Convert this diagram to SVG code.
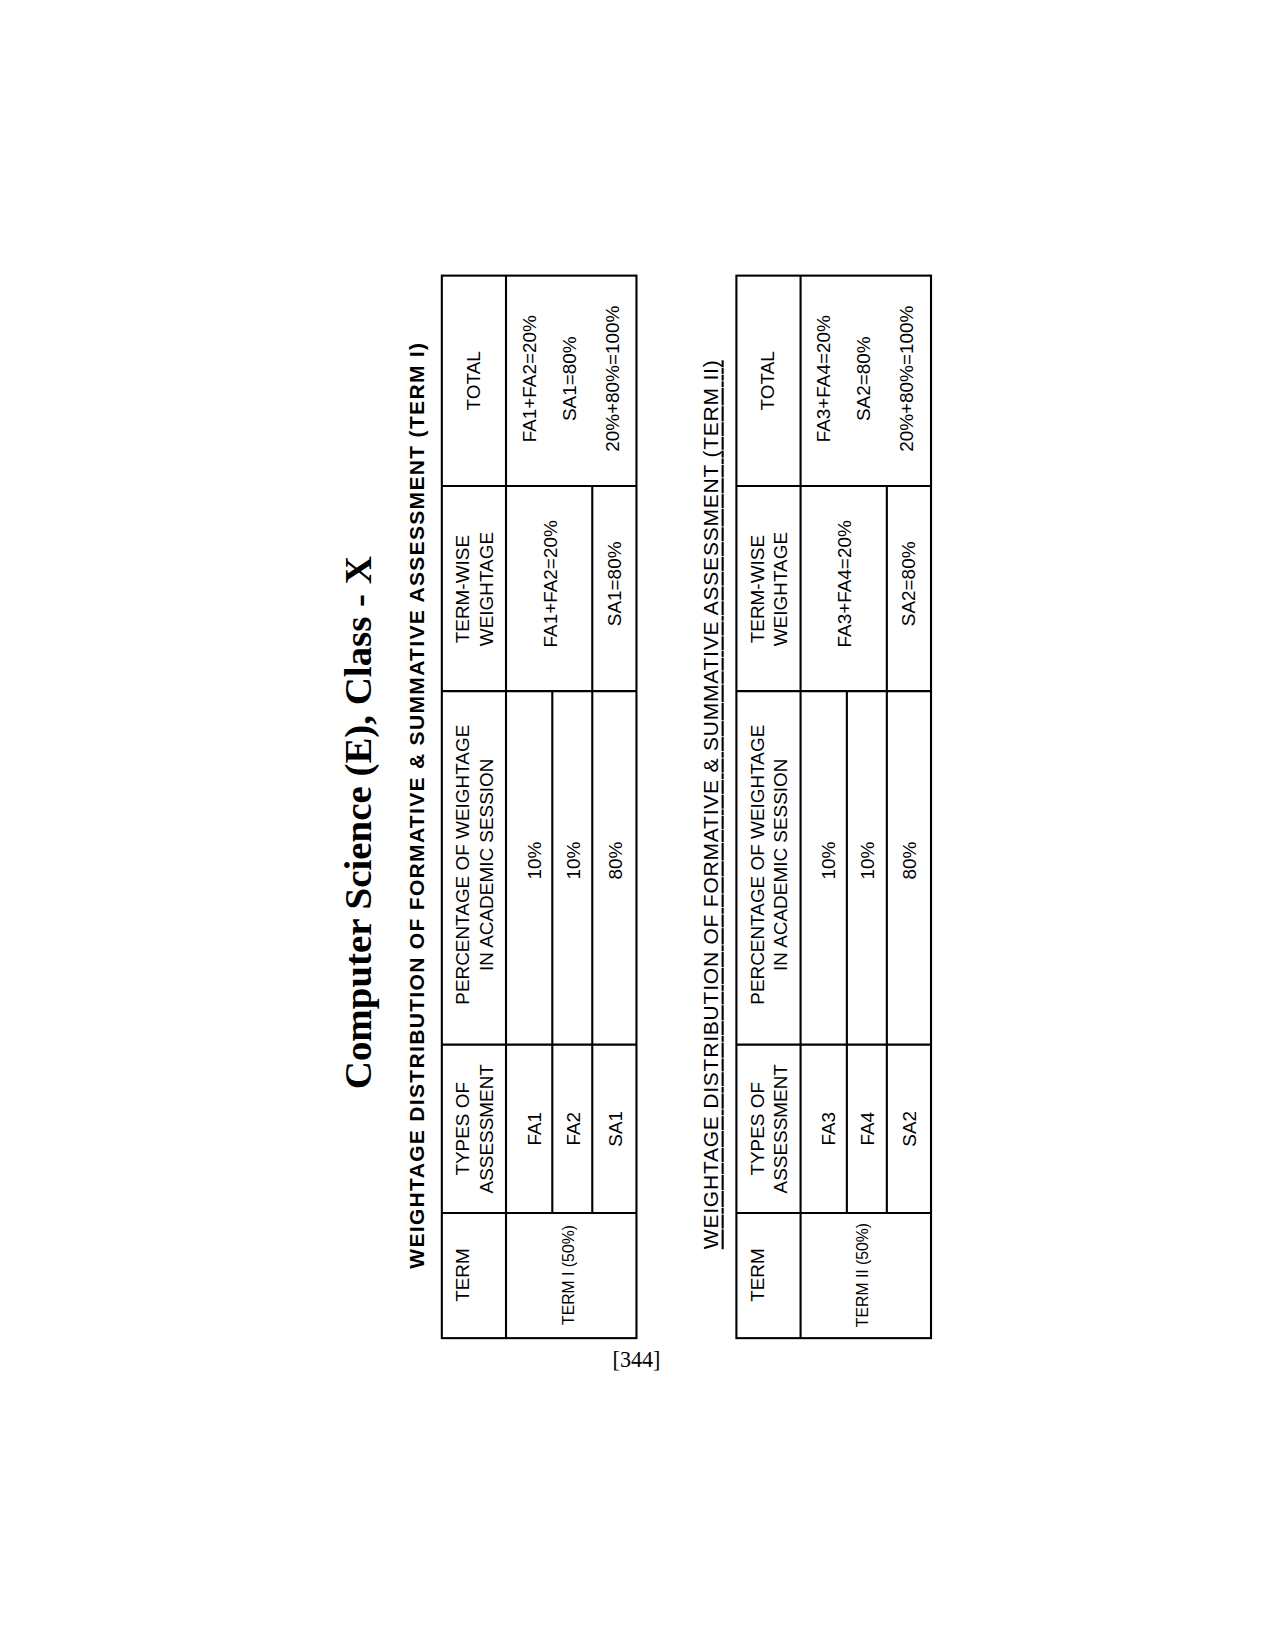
<svg xmlns="http://www.w3.org/2000/svg" width="1275" height="1651" viewBox="0 0 1275 1651">
<style>
.l{stroke:#000;stroke-width:2;fill:none}
text{font-family:"Liberation Sans",Arial,sans-serif;font-size:18px;text-anchor:middle;dominant-baseline:central;fill:#000}
.s{font-size:15px}
.t{font-family:"Liberation Serif","Times New Roman",serif;font-size:37px;font-weight:bold}
.h{font-size:20px;font-weight:bold}
.u{font-size:20px;text-decoration:underline}
.p{font-family:"Liberation Serif",serif;font-size:21px}
</style>
<rect width="1275" height="1651" fill="#fff"/>
<g transform="scale(1.052)">
<text class="t" transform="translate(340,782) rotate(-90)">Computer Science (E), Class - X</text>
<text class="h" transform="translate(396,766) rotate(-90)" textLength="880" lengthAdjust="spacing">WEIGHTAGE  DISTRIBUTION  OF  FORMATIVE  &amp;  SUMMATIVE  ASSESSMENT  (TERM I)</text>
<text class="p" x="605" y="1292">[344]</text>
<text class="u" transform="translate(675,765) rotate(-90)" textLength="845" lengthAdjust="spacing">WEIGHTAGE DISTRIBUTION OF FORMATIVE &amp; SUMMATIVE ASSESSMENT (TERM II)</text>
<g id="table1">
<rect class="l" x="420" y="262" width="185" height="1010"/>
<path class="l" d="M481 262V1272M420 462H605M420 657H605M420 993H605M420 1153H605M525 657V1153M563 462V1153"/>
<text transform="translate(440,1212) rotate(-90)">TERM</text>
<text transform="translate(440,1073) rotate(-90)">TYPES OF</text>
<text transform="translate(462,1073) rotate(-90)">ASSESSMENT</text>
<text transform="translate(440,822) rotate(-90)">PERCENTAGE OF WEIGHTAGE</text>
<text transform="translate(462,822) rotate(-90)">IN ACADEMIC SESSION</text>
<text transform="translate(440,560) rotate(-90)">TERM-WISE</text>
<text transform="translate(462,560) rotate(-90)">WEIGHTAGE</text>
<text transform="translate(450,362) rotate(-90)">TOTAL</text>
<text class="s" transform="translate(540,1212) rotate(-90)">TERM I (50%)</text>
<text transform="translate(508,1073) rotate(-90)">FA1</text>
<text transform="translate(545,1073) rotate(-90)">FA2</text>
<text transform="translate(585,1073) rotate(-90)">SA1</text>
<text transform="translate(508,818) rotate(-90)">10%</text>
<text transform="translate(545,818) rotate(-90)">10%</text>
<text transform="translate(585,818) rotate(-90)">80%</text>
<text transform="translate(523,555) rotate(-90)">FA1+FA2=20%</text>
<text transform="translate(584,555) rotate(-90)">SA1=80%</text>
<text transform="translate(503,360) rotate(-90)">FA1+FA2=20%</text>
<text transform="translate(541,360) rotate(-90)">SA1=80%</text>
<text transform="translate(582,360) rotate(-90)">20%+80%=100%</text>
</g>
<g id="table2">
<rect class="l" x="700" y="262" width="185" height="1010"/>
<path class="l" d="M761 262V1272M700 462H885M700 657H885M700 993H885M700 1153H885M805 657V1153M843 462V1153"/>
<text transform="translate(720,1212) rotate(-90)">TERM</text>
<text transform="translate(720,1073) rotate(-90)">TYPES OF</text>
<text transform="translate(742,1073) rotate(-90)">ASSESSMENT</text>
<text transform="translate(720,822) rotate(-90)">PERCENTAGE OF WEIGHTAGE</text>
<text transform="translate(742,822) rotate(-90)">IN ACADEMIC SESSION</text>
<text transform="translate(720,560) rotate(-90)">TERM-WISE</text>
<text transform="translate(742,560) rotate(-90)">WEIGHTAGE</text>
<text transform="translate(730,362) rotate(-90)">TOTAL</text>
<text class="s" transform="translate(820,1212) rotate(-90)">TERM II (50%)</text>
<text transform="translate(788,1073) rotate(-90)">FA3</text>
<text transform="translate(825,1073) rotate(-90)">FA4</text>
<text transform="translate(865,1073) rotate(-90)">SA2</text>
<text transform="translate(788,818) rotate(-90)">10%</text>
<text transform="translate(825,818) rotate(-90)">10%</text>
<text transform="translate(865,818) rotate(-90)">80%</text>
<text transform="translate(803,555) rotate(-90)">FA3+FA4=20%</text>
<text transform="translate(864,555) rotate(-90)">SA2=80%</text>
<text transform="translate(783,360) rotate(-90)">FA3+FA4=20%</text>
<text transform="translate(821,360) rotate(-90)">SA2=80%</text>
<text transform="translate(862,360) rotate(-90)">20%+80%=100%</text>
</g>
</g>
</svg>
